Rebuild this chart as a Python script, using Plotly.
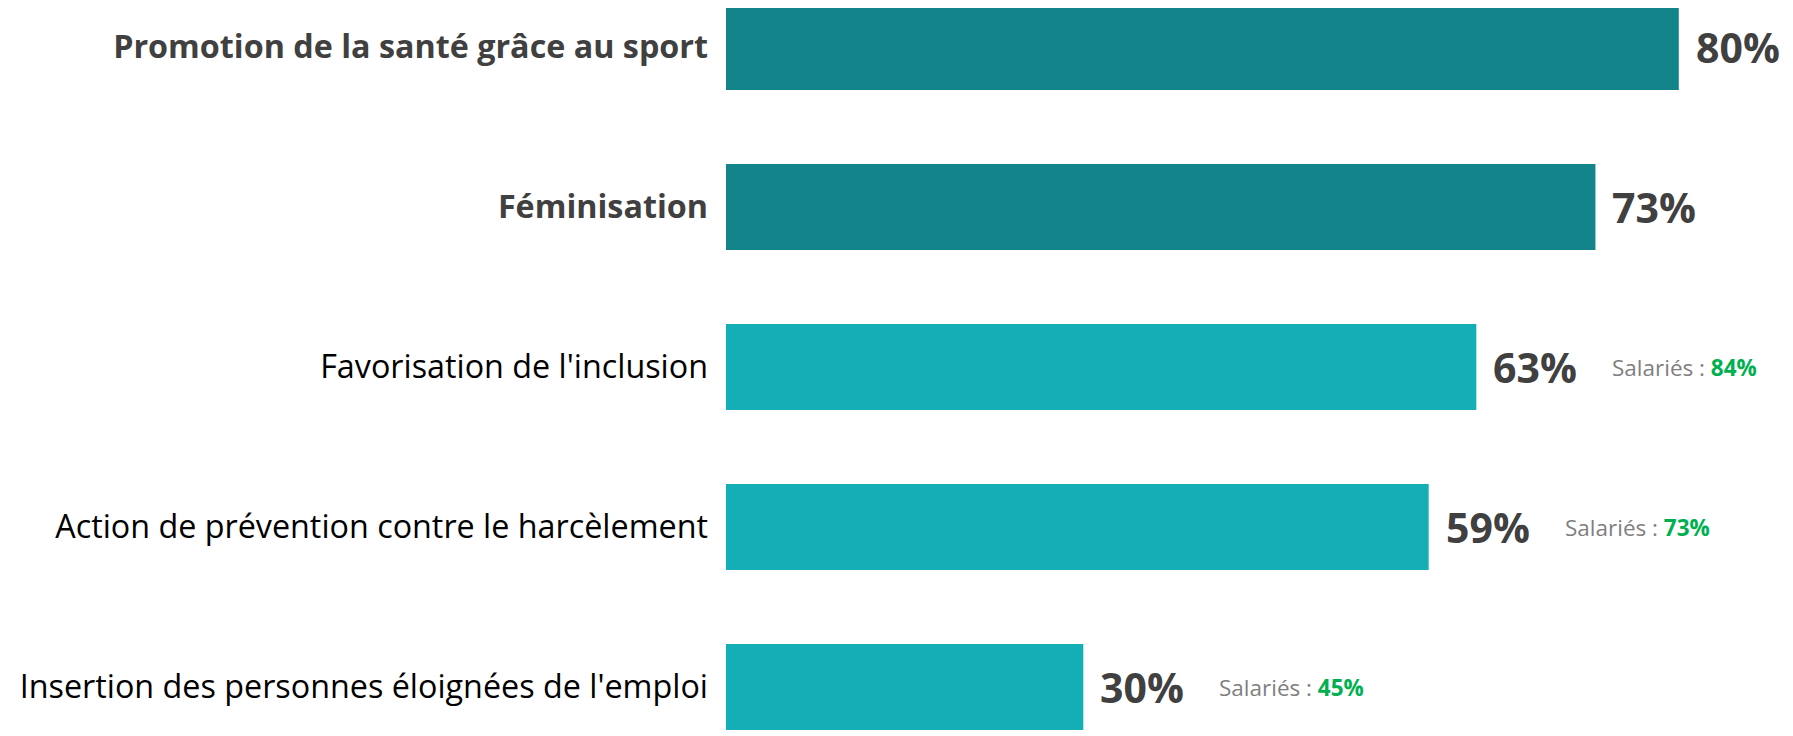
import plotly.graph_objects as go

categories = [
    "Promotion de la santé grâce au sport",
    "Féminisation",
    "Favorisation de l'inclusion",
    "Action de prévention contre le harcèlement",
    "Insertion des personnes éloignées de l'emploi",
]
values = [80, 73, 63, 59, 30]
highlight = [True, True, False, False, False]
salaries = [None, None, 84, 73, 45]

DARK = "#12848a"
LIGHT = "#13aeb6"
FONT = "Open Sans"

colors = [DARK if h else LIGHT for h in highlight]
ticktext = [
    f"<b>{c}</b>" if h else f"<span style='color:#000000'>{c}</span>"
    for c, h in zip(categories, highlight)
]

fig = go.Figure()
fig.add_trace(go.Bar(
    x=values,
    y=list(range(len(categories))),
    orientation="h",
    marker=dict(color=colors, line=dict(width=0)),
    width=0.5375,
    hoverinfo="skip",
))

for i, v in enumerate(values):
    fig.add_annotation(
        x=v, y=i, xref="x", yref="y",
        text=f"<b>{v}%</b>", showarrow=False,
        xanchor="left", yanchor="middle", xshift=15,
        font=dict(family=FONT, size=41, color="#404040"),
    )
    if salaries[i] is not None:
        fig.add_annotation(
            x=v, y=i, xref="x", yref="y",
            text=f"Salariés : <b><span style='color:#00b050'>{salaries[i]}%</span></b>",
            showarrow=False, xanchor="left", yanchor="middle", xshift=134,
            font=dict(family=FONT, size=22.5, color="#7f7f7f"),
        )

fig.update_layout(
    width=1793, height=736,
    margin=dict(l=718, r=0, t=0, b=0),
    paper_bgcolor="white", plot_bgcolor="white",
    showlegend=False,
    xaxis=dict(range=[0, 90.26], visible=False, fixedrange=True),
    yaxis=dict(
        range=[4.356, -0.244],
        tickvals=list(range(len(categories))),
        ticktext=ticktext,
        showgrid=False, zeroline=False, showline=False, ticks="",
        ticklabelstandoff=17,
        automargin=False,
        tickfont=dict(family=FONT, size=32.3, color="#404040"),
    ),
)

fig.write_html("out.html")
